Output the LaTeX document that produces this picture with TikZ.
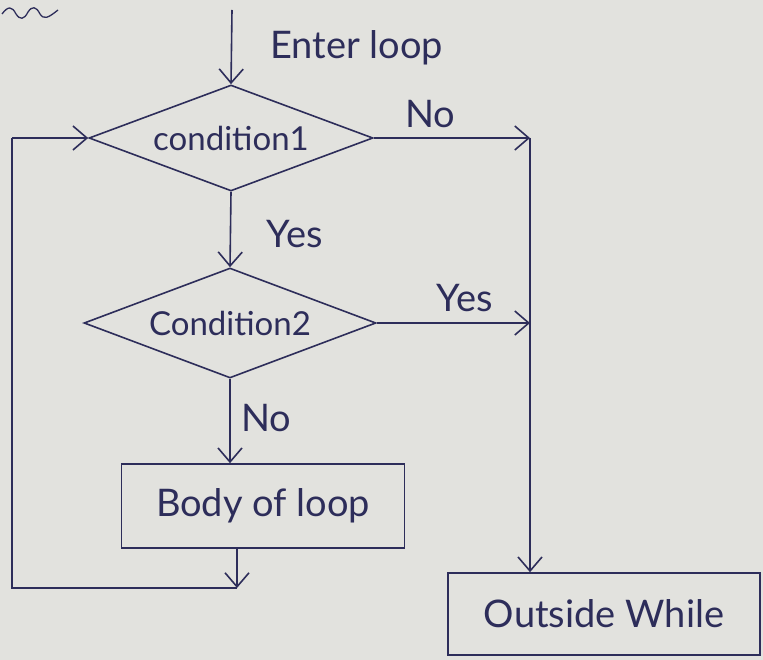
\documentclass[tikz,border=0pt]{standalone}
\usepackage{fontspec}
\setmainfont{Lato}
\usetikzlibrary{shapes.geometric,arrows.meta}
\definecolor{paper}{RGB}{226,226,222}
\definecolor{ink}{RGB}{45,45,90}
\tikzset{
  ln/.style={draw=ink, line width=1.6pt},
  lbl/.style={text=ink, font=\fontsize{38}{40}\selectfont, inner sep=0pt},
  dec/.style={shape=diamond, draw=ink, line width=1.6pt, inner sep=0pt, text=ink, font=\fontsize{33}{36}\selectfont},
  boxn/.style={shape=rectangle, draw=ink, line width=1.6pt, text=ink, font=\fontsize{38}{40}\selectfont},
  arr/.style={ln, -{Straight Barb[length=14pt,width=24pt,line width=1.6pt]}}
}
\begin{document}
\begin{tikzpicture}[x=1pt,y=-1pt]
\fill[paper] (0,0) rectangle (763,660);
\useasboundingbox (0,0) rectangle (763,660);
% squiggle
\draw[ln, line width=1.3pt] (2,14) .. controls (8,6) and (12,6) .. (16,14) .. controls (20,20) and (24,20) .. (28,12) .. controls (32,6) and (36,6) .. (40,14) .. controls (44,20) and (48,18) .. (58,10);
% nodes
\coordinate (start) at (232,10);
\node[dec, aspect=2.68, minimum width=284pt, minimum height=106pt] (c1) at (231,138) {condition1};
\node[dec, aspect=2.65, minimum width=292pt, minimum height=110pt] (c2) at (230,323) {Condition2};
\node[boxn, minimum width=283pt, minimum height=84pt] (body) at (263,506) {Body of loop};
\node[boxn, minimum width=312pt, minimum height=82pt] (out) at (604,614) {Outside While};
\coordinate (r1) at (530,138);
\coordinate (r2) at (530,323);
\coordinate (bl) at (237,588);
\coordinate (ll) at (12,588);
\coordinate (lt) at (12,138);
% labels
\node[lbl, anchor=west] (enter) at (270,48) {Enter loop};
\node[lbl] (no1) at (430,114) {No};
\node[lbl] (yes1) at (295,234) {Yes};
\node[lbl] (yes2) at (465,298) {Yes};
\node[lbl] (no2) at (266,418) {No};
% connectors
\draw[arr] (start) -- (c1.north);
\draw[arr] (c1.east) -- (r1);
\draw[ln] (r1) -- (r2);
\draw[arr] (r2) -- (out.north -| r1);
\draw[arr] (c2.east) -- (r2);
\draw[arr] (c1.south) -- (c2.north);
\draw[arr] (c2.south) -- (c2.south |- body.north);
\draw[arr] (body.south -| bl) -- (bl);
\draw[ln] (bl) -- (ll) -- (lt);
\draw[arr] (lt) -- (c1.west);
\end{tikzpicture}
\end{document}
